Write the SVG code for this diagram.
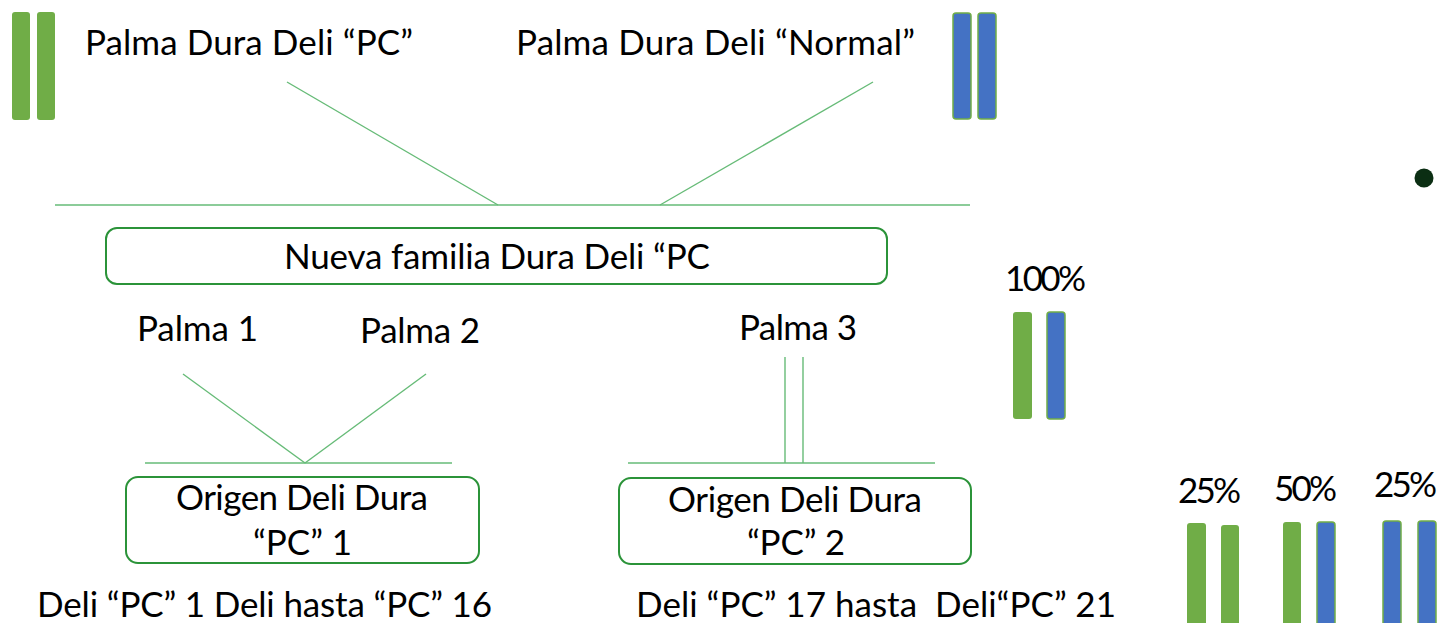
<svg xmlns="http://www.w3.org/2000/svg" width="1443" height="623" viewBox="0 0 1443 623">
  <style>
    text { font-family: Lato, "Liberation Sans", sans-serif; font-size: 35px; fill: #000; }
    .link { stroke: #66BB77; stroke-width: 1.4; fill: none; }
    .box { fill: #fff; stroke: #2B9339; stroke-width: 2; }
    .g { fill: #70AD47; }
    .b { fill: #4472C4; stroke: #70AD47; stroke-width: 1.5; }
  </style>

  <!-- connectors -->
  <g id="connectors">
    <line class="link" x1="287" y1="82" x2="498" y2="205"/>
    <line class="link" x1="873" y1="82" x2="660" y2="205"/>
    <line class="link" x1="55" y1="205" x2="970" y2="205"/>
    <line class="link" x1="183" y1="374" x2="305" y2="463"/>
    <line class="link" x1="426" y1="374" x2="305" y2="463"/>
    <line class="link" x1="145" y1="463" x2="452" y2="463"/>
    <line class="link" x1="785" y1="357" x2="785" y2="463"/>
    <line class="link" x1="803" y1="357" x2="803" y2="463"/>
    <line class="link" x1="628" y1="463" x2="935" y2="463"/>
  </g>

  <!-- parent: PC -->
  <g id="parent-pc">
    <rect class="g" x="12" y="12" width="18" height="108" rx="3"/>
    <rect class="g" x="37" y="12" width="18" height="108" rx="3"/>
    <text x="85" y="55" textLength="328">Palma Dura Deli “PC”</text>
  </g>

  <!-- parent: Normal -->
  <g id="parent-normal">
    <text x="516" y="55" textLength="399">Palma Dura Deli “Normal”</text>
    <rect class="b" x="953" y="13" width="18" height="106" rx="3"/>
    <rect class="b" x="978" y="13" width="18" height="106" rx="3"/>
  </g>

  <circle id="dot" cx="1424" cy="178" r="9.5" fill="#0B2E13"/>

  <!-- new family -->
  <g id="family">
    <rect class="box" x="106" y="228" width="781" height="56" rx="11"/>
    <text x="284" y="269" textLength="426">Nueva familia Dura Deli “PC</text>
  </g>

  <g id="family-ratio">
    <text x="1005" y="291" textLength="81">100%</text>
    <rect class="g" x="1013" y="312" width="19" height="107" rx="3"/>
    <rect class="b" x="1047" y="312" width="18" height="107" rx="3"/>
  </g>

  <g id="palma1"><text x="137" y="341" textLength="121">Palma 1</text></g>
  <g id="palma2"><text x="360" y="343" textLength="120">Palma 2</text></g>
  <g id="palma3"><text x="739" y="340" textLength="118">Palma 3</text></g>

  <!-- origin 1 -->
  <g id="origen1">
    <rect class="box" x="126" y="477" width="353" height="86" rx="12"/>
    <text x="176" y="510" textLength="252">Origen Deli Dura</text>
    <text x="253" y="555" textLength="99">“PC” 1</text>
  </g>
  <g id="range1"><text x="37" y="617" textLength="455">Deli “PC” 1 Deli hasta “PC” 16</text></g>

  <!-- origin 2 -->
  <g id="origen2">
    <rect class="box" x="619" y="478" width="352" height="86" rx="12"/>
    <text x="668" y="512" textLength="254">Origen Deli Dura</text>
    <text x="747" y="555" textLength="98">“PC” 2</text>
  </g>
  <g id="range2"><text x="636" y="617" textLength="480" xml:space="preserve">Deli “PC” 17 hasta  Deli“PC” 21</text></g>

  <!-- segregation ratios -->
  <g id="ratio-gg">
    <text x="1178" y="503" textLength="63">25%</text>
    <rect class="g" x="1187" y="523" width="19" height="120" rx="3"/>
    <rect class="g" x="1221" y="525" width="18" height="120" rx="3"/>
  </g>
  <g id="ratio-gb">
    <text x="1274" y="501" textLength="63">50%</text>
    <rect class="g" x="1283" y="522" width="18" height="120" rx="3"/>
    <rect class="b" x="1317" y="522" width="18" height="120" rx="3"/>
  </g>
  <g id="ratio-bb">
    <text x="1374" y="497" textLength="63">25%</text>
    <rect class="b" x="1383" y="521" width="18" height="120" rx="3"/>
    <rect class="b" x="1418" y="521" width="18" height="120" rx="3"/>
  </g>
</svg>
